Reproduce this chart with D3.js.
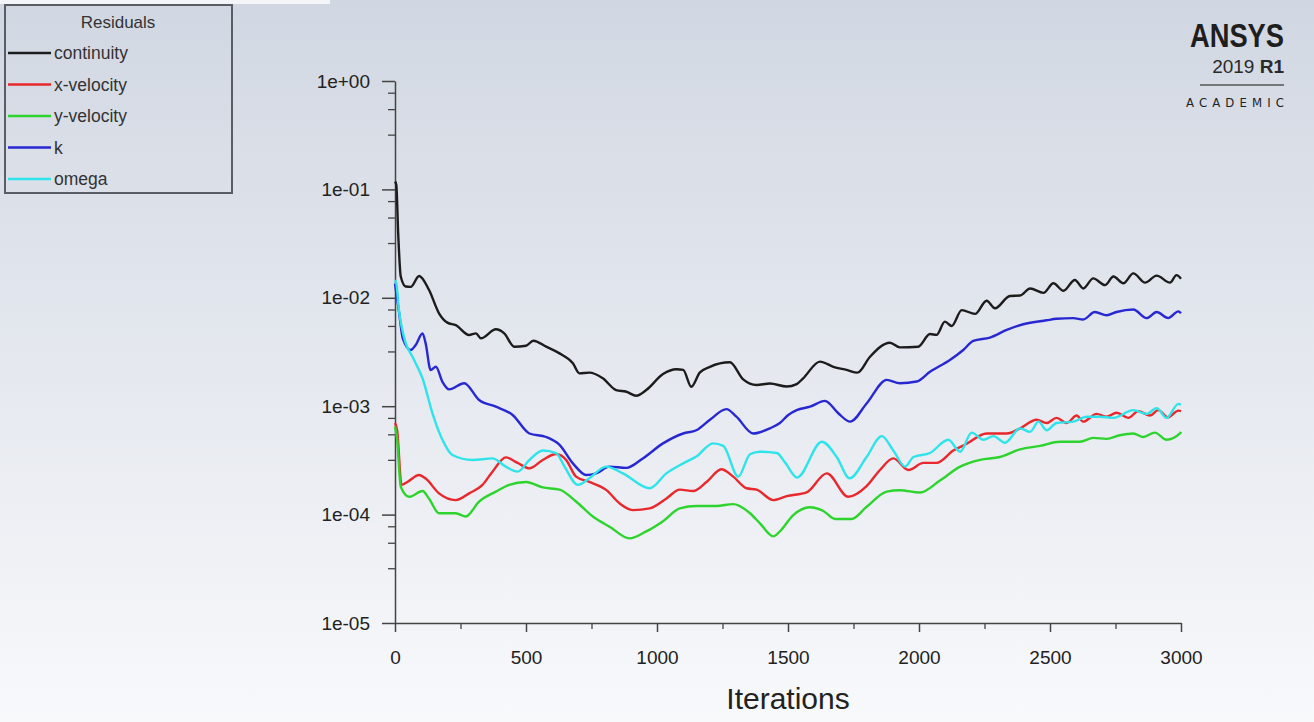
<!DOCTYPE html>
<html>
<head>
<meta charset="utf-8">
<script src="https://cdn.jsdelivr.net/npm/d3@7"></script>
<style>
  body { margin: 0; padding: 0; overflow: hidden; }
  svg { display: block; font-family: "Liberation Sans", Arial, sans-serif; }
</style>
</head>
<body>
<svg id="chart" width="1314" height="722"></svg>
<script>
// Residual histories: [iteration, residual]
const continuity = [[0,0.118],[5,0.11],[12,0.04],[22,0.0157],[41,0.0127],[60,0.0126],[92,0.0159],[130,0.0118],[168,0.0072],[200,0.0059],[232,0.0056],[283,0.00454],[309,0.0047],[328,0.00423],[385,0.00512],[417,0.0047],[455,0.00354],[500,0.00361],[528,0.00402],[577,0.00354],[628,0.00307],[679,0.00249],[704,0.00201],[742,0.00204],[793,0.00181],[844,0.00141],[883,0.00136],[921,0.00125],[959,0.00141],[1023,0.00198],[1074,0.00219],[1100,0.00216],[1131,0.00151],[1163,0.00204],[1202,0.00231],[1278,0.00254],[1329,0.00177],[1380,0.00157],[1431,0.00162],[1495,0.00152],[1533,0.0016],[1558,0.00181],[1622,0.00258],[1673,0.00231],[1724,0.00216],[1765,0.00204],[1813,0.00286],[1889,0.00385],[1927,0.00349],[1997,0.00354],[2042,0.00463],[2067,0.00455],[2099,0.00603],[2125,0.0055],[2163,0.0077],[2214,0.0071],[2258,0.0094],[2290,0.008],[2347,0.0104],[2386,0.0105],[2424,0.0122],[2475,0.0111],[2513,0.0136],[2551,0.0116],[2595,0.0146],[2627,0.0122],[2665,0.0151],[2710,0.0131],[2742,0.0157],[2780,0.0136],[2818,0.0168],[2863,0.0138],[2907,0.016],[2958,0.0138],[2983,0.0162],[3000,0.015]];

const xVelocity = [[0,0.0007],[8,0.0006],[25,0.000188],[47,0.0002],[92,0.000232],[117,0.000215],[168,0.000157],[232,0.000136],[283,0.000157],[334,0.000188],[372,0.000249],[423,0.000337],[468,0.0003],[513,0.000267],[564,0.000319],[615,0.000362],[653,0.00032],[691,0.000224],[742,0.0002],[806,0.000169],[857,0.000127],[908,0.00011],[972,0.000114],[1036,0.000141],[1087,0.00017],[1138,0.000165],[1189,0.0002],[1246,0.000262],[1291,0.000224],[1342,0.000175],[1380,0.00017],[1444,0.000136],[1495,0.000148],[1571,0.00016],[1648,0.00024],[1730,0.000146],[1800,0.000183],[1851,0.000258],[1902,0.00033],[1960,0.000258],[2017,0.0003],[2067,0.0003],[2131,0.00039],[2182,0.00045],[2258,0.00056],[2335,0.00056],[2386,0.000625],[2449,0.00075],[2487,0.0007],[2525,0.00078],[2564,0.0007],[2602,0.00082],[2627,0.00072],[2678,0.00085],[2716,0.0008],[2754,0.00087],[2799,0.00078],[2837,0.0009],[2882,0.00082],[2913,0.00092],[2951,0.00079],[2990,0.00091],[3000,0.0009]];

const yVelocity = [[0,0.00065],[8,0.0005],[22,0.000181],[54,0.000146],[105,0.000165],[130,0.00014],[168,0.000103],[232,0.000103],[270,0.000096],[321,0.000132],[385,0.000163],[436,0.000188],[500,0.0002],[564,0.000178],[628,0.00017],[691,0.000132],[755,0.000096],[819,0.0000774],[895,0.0000604],[959,0.00007],[1023,0.000087],[1087,0.000114],[1150,0.00012],[1227,0.00012],[1291,0.000125],[1355,0.000103],[1393,0.000083],[1444,0.000063],[1469,0.00007],[1520,0.000099],[1584,0.000117],[1635,0.000108],[1680,0.000091],[1743,0.000091],[1800,0.000118],[1877,0.000163],[1927,0.000168],[2004,0.00016],[2080,0.000206],[2157,0.000277],[2233,0.00032],[2309,0.00034],[2386,0.0004],[2462,0.00043],[2538,0.00047],[2614,0.00047],[2665,0.00051],[2716,0.0005],[2767,0.00054],[2818,0.00056],[2856,0.00052],[2900,0.00057],[2945,0.00049],[2996,0.00056],[3000,0.00058]];

const kResidual = [[0,0.0135],[15,0.0075],[30,0.0042],[60,0.0033],[79,0.00367],[105,0.0047],[117,0.0038],[136,0.00216],[156,0.00231],[181,0.00168],[207,0.00143],[264,0.00163],[321,0.00114],[385,0.00099],[449,0.00083],[513,0.00056],[577,0.00052],[628,0.00044],[679,0.000297],[730,0.000232],[768,0.00024],[819,0.000277],[883,0.00027],[946,0.00033],[1023,0.000454],[1100,0.00056],[1150,0.0006],[1202,0.00075],[1265,0.00094],[1303,0.0008],[1367,0.00056],[1431,0.000625],[1469,0.0007],[1501,0.00083],[1533,0.00092],[1584,0.00099],[1641,0.00112],[1692,0.00086],[1737,0.00072],[1800,0.00106],[1877,0.00175],[1927,0.00163],[1991,0.00169],[2042,0.00208],[2118,0.00267],[2169,0.0033],[2207,0.004],[2271,0.0043],[2335,0.00505],[2398,0.0057],[2487,0.0062],[2525,0.0064],[2589,0.0065],[2627,0.0063],[2671,0.0074],[2716,0.0069],[2754,0.0074],[2818,0.0078],[2869,0.0065],[2907,0.0074],[2951,0.0065],[2990,0.0075],[3000,0.0072]];

const omega = [[0,0.0145],[5,0.0136],[15,0.0077],[34,0.00438],[73,0.00267],[105,0.00181],[143,0.00086],[181,0.00049],[219,0.000355],[296,0.000319],[372,0.00033],[423,0.000277],[468,0.000249],[513,0.000319],[564,0.00039],[615,0.00037],[647,0.000277],[698,0.000188],[742,0.000216],[806,0.000277],[870,0.00024],[972,0.000175],[1036,0.00024],[1100,0.000297],[1150,0.000343],[1214,0.000454],[1253,0.00043],[1310,0.000224],[1355,0.00036],[1393,0.00038],[1457,0.00037],[1490,0.0003],[1535,0.00022],[1629,0.00047],[1686,0.00034],[1735,0.000216],[1800,0.00034],[1858,0.00053],[1902,0.00039],[1947,0.000277],[1979,0.00034],[2042,0.00037],[2112,0.00049],[2157,0.00038],[2201,0.00057],[2246,0.00049],[2284,0.00053],[2328,0.00046],[2386,0.000625],[2424,0.00058],[2456,0.00072],[2487,0.0006],[2525,0.0007],[2589,0.00072],[2640,0.0008],[2691,0.0008],[2742,0.00078],[2818,0.00092],[2869,0.00085],[2907,0.00096],[2945,0.00078],[2990,0.00105],[3000,0.00103]];

const seriesNames = ["continuity", "x-velocity", "y-velocity", "k", "omega"];
const seriesColors = ["#1c1c1c", "#e8282c", "#2ed42e", "#2828d2", "#2ee4ea"];
const seriesData = [continuity, xVelocity, yVelocity, kResidual, omega];

const xTicks = [0, 500, 1000, 1500, 2000, 2500, 3000];
const xMinorTicks = [250, 750, 1250, 1750, 2250, 2750];
const yTicks = [1, 1e-1, 1e-2, 1e-3, 1e-4, 1e-5];
const yMinorMultipliers = [3.2, 5.5, 7.8];

const svg = d3.select("#chart");
const width = +svg.attr("width");
const height = +svg.attr("height");

// Background gradient like the Fluent window
const defs = svg.append("defs");
const grad = defs.append("linearGradient")
    .attr("id", "bg").attr("x1", 0).attr("y1", 0).attr("x2", 0).attr("y2", 1);
grad.append("stop").attr("offset", "0%").attr("stop-color", "#d1d7e2");
grad.append("stop").attr("offset", "100%").attr("stop-color", "#f8f9fb");
svg.append("rect").attr("width", width).attr("height", height).attr("fill", "url(#bg)");
svg.append("rect").attr("width", 330).attr("height", 4).attr("fill", "#f4f5f8");

const x = d3.scaleLinear().domain([0, 3000]).range([395, 1181]);
const y = d3.scaleLog().domain([1e-5, 1]).range([623, 81]);

const axisColor = "#444";

// Minor ticks
const yMinor = [];
yTicks.slice(1).forEach(t => yMinorMultipliers.forEach(m => yMinor.push(t * m)));

svg.append("g")
    .attr("transform", `translate(${x(0)},0)`)
    .call(d3.axisLeft(y).tickValues(yMinor).tickSize(7).tickFormat(""))
    .call(g => g.select(".domain").remove())
    .call(g => g.selectAll("line").attr("stroke", axisColor).attr("stroke-width", 1.3));

svg.append("g")
    .attr("transform", `translate(0,${y(1e-5)})`)
    .call(d3.axisBottom(x).tickValues(xMinorTicks).tickSize(6).tickFormat(""))
    .call(g => g.select(".domain").remove())
    .call(g => g.selectAll("line").attr("stroke", axisColor).attr("stroke-width", 1.3));

// Major axes
const fmt = v => {
    const e = Math.round(Math.log10(v));
    return "1e" + (e < 0 ? "-" : "+") + String(Math.abs(e)).padStart(2, "0");
};

svg.append("g")
    .attr("transform", `translate(${x(0)},0)`)
    .call(d3.axisLeft(y).tickValues(yTicks).tickSize(13).tickSizeOuter(0).tickPadding(12).tickFormat(fmt))
    .call(g => g.select(".domain").attr("stroke", axisColor).attr("stroke-width", 1.5))
    .call(g => g.selectAll("line").attr("stroke", axisColor).attr("stroke-width", 1.5))
    .call(g => g.selectAll("text").attr("fill", "#222").style("font-size", "19px")
        .style("font-family", "'Liberation Sans', Arial, sans-serif"));

svg.append("g")
    .attr("transform", `translate(0,${y(1e-5)})`)
    .call(d3.axisBottom(x).tickValues(xTicks).tickSize(9).tickSizeOuter(0).tickPadding(19).tickFormat(d3.format("d")))
    .call(g => g.select(".domain").attr("stroke", axisColor).attr("stroke-width", 1.5))
    .call(g => g.selectAll("line").attr("stroke", axisColor).attr("stroke-width", 1.5))
    .call(g => g.selectAll("text").attr("fill", "#222").style("font-size", "19px")
        .style("font-family", "'Liberation Sans', Arial, sans-serif"));

svg.append("text")
    .attr("x", (x(0) + x(3000)) / 2)
    .attr("y", 709)
    .attr("text-anchor", "middle")
    .attr("fill", "#222")
    .style("font-size", "30px")
    .text("Iterations");

// Residual lines
const line = d3.line()
    .x(d => x(d[0]))
    .y(d => y(d[1]))
    .curve(d3.curveMonotoneX);

svg.append("g").selectAll("path")
    .data(seriesData)
    .enter().append("path")
    .attr("d", line)
    .attr("fill", "none")
    .attr("stroke", (d, i) => seriesColors[i])
    .attr("stroke-width", 2.4)
    .attr("stroke-linejoin", "round");

// Legend box
const legend = svg.append("g");
legend.append("rect")
    .attr("x", 5).attr("y", 5).attr("width", 227).attr("height", 188)
    .attr("fill", "none").attr("stroke", "#5a5d63").attr("stroke-width", 2);
legend.append("text")
    .attr("x", 118).attr("y", 28)
    .attr("text-anchor", "middle")
    .attr("fill", "#333")
    .style("font-size", "17px")
    .text("Residuals");

const entry = legend.selectAll(".entry")
    .data(seriesNames)
    .enter().append("g")
    .attr("class", "entry")
    .attr("transform", (d, i) => `translate(0,${53 + i * 31.5})`);
entry.append("line")
    .attr("x1", 8).attr("x2", 51)
    .attr("stroke", (d, i) => seriesColors[i])
    .attr("stroke-width", 2.6);
entry.append("text")
    .attr("x", 54).attr("y", 6)
    .attr("fill", "#333")
    .style("font-size", "17.5px")
    .text(d => d);

// ANSYS badge
const logo = svg.append("g");
logo.append("text")
    .attr("x", 1284).attr("y", 47)
    .attr("text-anchor", "end")
    .attr("fill", "#1e1e1e")
    .attr("textLength", 94).attr("lengthAdjust", "spacingAndGlyphs")
    .style("font-family", "'Liberation Sans Narrow', 'Liberation Sans', sans-serif")
    .style("font-weight", "bold")
    .style("font-size", "33px")
    .text("ANSYS");
const ver = logo.append("text")
    .attr("x", 1284).attr("y", 73)
    .attr("text-anchor", "end")
    .attr("fill", "#2a2a2a")
    .style("font-family", "'Liberation Sans Narrow', 'Liberation Sans', sans-serif")
    .style("font-size", "19px");
ver.append("tspan").text("2019 ");
ver.append("tspan").style("font-weight", "bold").text("R1");
logo.append("line")
    .attr("x1", 1200).attr("x2", 1284).attr("y1", 85).attr("y2", 85)
    .attr("stroke", "#555").attr("stroke-width", 1.5);
logo.append("text")
    .attr("x", 1284).attr("y", 107)
    .attr("text-anchor", "end")
    .attr("fill", "#222")
    .attr("textLength", 98).attr("lengthAdjust", "spacing")
    .style("font-size", "13px")
    .style("font-family", "'DejaVu Sans Condensed', 'Liberation Sans Narrow', sans-serif")
    .text("ACADEMIC");
</script>
</body>
</html>
